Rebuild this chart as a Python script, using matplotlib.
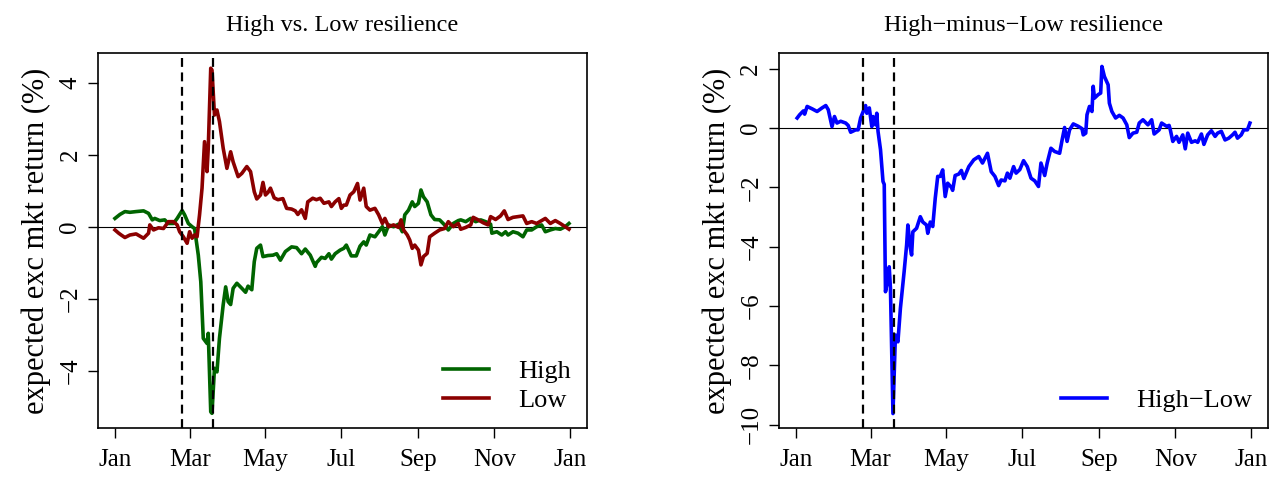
import numpy as np
import pandas as pd
import matplotlib
matplotlib.use("Agg")
import matplotlib.pyplot as plt
import matplotlib.dates as mdates

# dias desde 2020-01-01 y valores
high_day = [0, 4, 8, 12, 17, 23, 27, 30, 32, 36, 40, 43, 47, 50, 54, 56, 59, 62, 64, 67,
            69, 71, 74, 75, 77, 78, 80, 82, 84, 87, 89, 91, 93, 95, 98, 102, 105, 107, 110, 112,
            114, 117, 119, 123, 127, 130, 133, 137, 142, 146, 150, 153, 157, 161, 162, 166, 169, 172, 174, 177,
            181, 184, 186, 190, 194, 197, 200, 202, 205, 209, 212, 215, 217, 220, 224, 228, 231, 233, 236, 239,
            241, 244, 246, 248, 251, 254, 257, 261, 265, 268, 272, 276, 278, 282, 286, 290, 294, 298, 302, 303,
            307, 311, 314, 316, 320, 324, 328, 331, 335, 339, 343, 346, 350, 354, 358, 362, 365]
high_val = [0.23, 0.34, 0.42, 0.40, 0.42, 0.44, 0.37, 0.19, 0.23, 0.17, 0.19, 0.09, 0.09, 0.23, 0.45, 0.33, 0.09, 0.0, -0.05, -0.79,
            -1.53, -3.1, -3.24, -2.96, -5.14, -5.18, -3.93, -4.03, -3.1, -2.17, -1.67, -2.08, -2.16, -1.71, -1.57, -1.71, -1.82, -1.65, -1.75, -0.97,
            -0.6, -0.51, -0.83, -0.8, -0.79, -0.75, -0.93, -0.69, -0.56, -0.58, -0.75, -0.62, -0.79, -1.1, -1.0, -0.85, -0.88, -0.75, -0.9, -0.75,
            -0.65, -0.6, -0.51, -0.81, -0.81, -0.54, -0.42, -0.51, -0.23, -0.28, -0.14, 0.0, -0.23, 0.05, 0.0, 0.07, -0.14, 0.33, 0.46, 0.69,
            0.56, 0.65, 1.02, 0.83, 0.69, 0.33, 0.2, 0.19, 0.05, -0.09, 0.09, 0.17, 0.19, 0.14, 0.23, 0.14, 0.19, 0.14, 0.07, -0.18,
            -0.14, -0.23, -0.14, -0.23, -0.14, -0.18, -0.28, -0.09, -0.09, 0.0, 0.05, -0.14, -0.09, -0.05, -0.07, 0.0, 0.09]

low_day = [0, 3, 5, 8, 12, 17, 23, 27, 28, 31, 35, 39, 43, 47, 50, 52, 55, 58, 60, 62,
           64, 66, 68, 70, 72, 74, 75, 77, 78, 80, 82, 84, 87, 90, 93, 95, 99, 102, 106, 109,
           112, 114, 117, 119, 121, 123, 125, 128, 131, 135, 138, 142, 145, 147, 150, 153, 155, 159, 162, 165,
           168, 172, 174, 177, 180, 182, 184, 186, 189, 192, 195, 197, 200, 202, 205, 209, 212, 215, 217, 220,
           224, 228, 230, 232, 235, 237, 239, 241, 244, 246, 248, 251, 253, 257, 261, 265, 268, 272, 276, 278,
           282, 286, 288, 292, 296, 300, 302, 306, 310, 313, 316, 320, 324, 328, 331, 335, 339, 343, 346, 350,
           354, 358, 362, 365]
low_val = [-0.09, -0.18, -0.23, -0.30, -0.23, -0.20, -0.32, -0.18, 0.05, -0.09, -0.03, -0.05, 0.14, 0.14, 0.05, -0.14, -0.28, -0.46, -0.14, -0.32,
           -0.23, -0.28, 0.33, 1.07, 2.36, 1.53, 2.18, 4.4, 4.35, 3.1, 3.24, 2.92, 2.18, 1.62, 2.08, 1.8, 1.39, 1.48, 1.67, 1.53,
           0.97, 0.77, 0.88, 1.23, 0.88, 0.95, 1.07, 0.8, 0.75, 0.78, 0.51, 0.49, 0.44, 0.34, 0.47, 0.23, 0.69, 0.79, 0.75, 0.79,
           0.65, 0.69, 0.56, 0.69, 0.78, 0.51, 0.6, 0.6, 0.88, 0.97, 1.2, 0.74, 1.07, 0.56, 0.46, 0.51, 0.33, 0.09, 0.23, 0.0,
           0.05, -0.02, 0.19, -0.09, -0.23, -0.37, -0.6, -0.51, -0.65, -1.06, -0.83, -0.74, -0.28, -0.18, -0.09, -0.05, 0.14, 0.0, 0.09, -0.07,
           -0.02, 0.05, 0.26, 0.19, 0.11, 0.05, 0.28, 0.2, 0.3, 0.44, 0.2, 0.26, 0.28, 0.3, 0.09, 0.14, 0.09, 0.17, 0.23, 0.09,
           0.17, 0.09, 0.0, -0.07]

hl_day = [1, 3, 6, 7, 9, 13, 17, 21, 24, 26, 29, 31, 33, 36, 40, 42, 44, 48, 50, 52,
          56, 57, 59, 61, 62, 64, 65, 66, 68, 70, 71, 72, 74, 75, 76, 78, 80, 82, 84, 87,
          89, 90, 92, 93, 94, 97, 100, 102, 105, 106, 108, 110, 112, 114, 116, 118, 120, 122, 125, 126,
          128, 131, 133, 135, 139, 143, 147, 150, 154, 157, 160, 163, 165, 168, 170, 172, 175, 177, 180, 183,
          186, 189, 192, 195, 197, 200, 202, 205, 208, 212, 214, 216, 218, 220, 223, 227, 230, 231, 233, 234,
          236, 238, 239, 240, 243, 245, 246, 248, 251, 252, 254, 257, 260, 263, 266, 268, 271, 274, 276, 279,
          283, 286, 288, 292, 294, 298, 300, 301, 303, 306, 308, 311, 313, 315, 318, 321, 323, 326, 328, 331,
          334, 337, 339, 342, 345, 348, 351, 353, 355, 358, 360, 363, 365]
hl_val = [0.34, 0.45, 0.58, 0.47, 0.73, 0.65, 0.56, 0.68, 0.76, 0.62, 0.05, 0.39, 0.17, 0.23, 0.17, 0.09, -0.14, -0.06, -0.06, 0.34,
          0.76, 0.5, 0.68, 0.05, 0.39, 0.11, 0.5, -0.11, -0.73, -1.8, -1.9, -5.52, -5.07, -4.68, -5.41, -9.63, -6.98, -7.21, -6.08, -4.84,
          -3.94, -3.27, -4.05, -4.28, -3.5, -3.38, -2.99, -3.17, -3.27, -3.55, -3.17, -3.32, -2.37, -1.63, -1.63, -1.41, -2.31, -1.86, -2.0, -2.1,
          -1.6, -1.55, -1.43, -1.7, -1.3, -1.07, -0.96, -1.18, -0.85, -1.47, -1.63, -1.94, -1.75, -1.78, -1.52, -1.69, -1.3, -1.52, -1.4, -1.1,
          -1.3, -1.69, -1.78, -1.97, -1.18, -1.6, -1.18, -0.68, -0.79, -0.85, -0.4, 0.02, -0.45, -0.06, 0.14, 0.06, -0.02, -0.23, -0.17, 0.45,
          0.73, 0.56, 1.41, 1.01, 1.13, 1.18, 2.08, 1.74, 1.46, 0.84, 0.56, 0.34, 0.43, 0.34, 0.11, -0.32, -0.17, -0.14, 0.17, 0.28,
          0.11, 0.28, -0.2, -0.06, 0.17, 0.06, 0.09, -0.06, -0.45, -0.28, -0.48, -0.23, -0.7, -0.17, -0.48, -0.43, -0.48, -0.2, -0.55, -0.23,
          -0.09, -0.28, -0.17, -0.11, -0.4, -0.34, -0.23, -0.14, -0.34, -0.23, -0.06, -0.06, 0.17]

eventos = ["2020-02-24", "2020-03-20"]
meses = ["2020-01-01", "2020-03-01", "2020-05-01", "2020-07-01", "2020-09-01", "2020-11-01", "2021-01-01"]
meses_lab = ["Jan", "Mar", "May", "Jul", "Sep", "Nov", "Jan"]

inicio = pd.Timestamp("2020-01-01")
def a_fecha(dias):
    return inicio + pd.to_timedelta(dias, unit="D")

plt.rcParams['font.family'] = ['Liberation Serif', 'DejaVu Serif']

fig = plt.figure(figsize=(12.8, 4.87), dpi=100)
ax1 = fig.add_axes([0.0766, 0.121, 0.382, 0.770])
ax2 = fig.add_axes([0.6086, 0.121, 0.382, 0.770])

def formato(ax, titulo, yticks):
    ax.axhline(0, color="black", lw=0.8, zorder=1)
    for e in eventos:
        ax.axvline(pd.Timestamp(e), color="black", ls=(0, (4, 2.5)), lw=1.6, zorder=3)
    ax.set_xlim(inicio - pd.Timedelta(days=13.6), pd.Timestamp("2021-01-01") + pd.Timedelta(days=13.5))
    ax.set_xticks([pd.Timestamp(m) for m in meses])
    ax.set_xticklabels(meses_lab, fontsize=18)
    ax.set_yticks(yticks)
    ax.set_yticklabels([str(t).replace("-", "\u2212") for t in yticks], fontsize=18,
                       rotation=90, va="center")
    ax.tick_params(direction="out", length=7, width=1, pad=5)
    ax.tick_params(axis="x", pad=8)
    for s in ax.spines.values():
        s.set_linewidth(1.2)
    ax.set_title(titulo, fontsize=17.5, pad=16)
    ax.set_ylabel("expected exc mkt return (%)", fontsize=22, labelpad=6)

ax1.plot(a_fecha(high_day), high_val, color="#006400", lw=2.6, label="High", zorder=2)
ax1.plot(a_fecha(low_day), low_val, color="#8B0000", lw=2.6, label="Low", zorder=2)
ax1.set_ylim(-5.59, 4.82)
formato(ax1, "High vs. Low resilience", [-4, -2, 0, 2, 4])
ax1.legend(loc="lower right", frameon=False, fontsize=19, handlelength=1.75,
           handletextpad=1.1, labelspacing=0.2, borderaxespad=0.3, borderpad=0.3)

ax2.plot(a_fecha(hl_day), hl_val, color="blue", lw=2.6, label="High\u2212Low", zorder=2)
ax2.set_ylim(-10.12, 2.53)
formato(ax2, "High\u2212minus\u2212Low resilience", [-10, -8, -6, -4, -2, 0, 2])
ax2.legend(loc="lower right", frameon=False, fontsize=19, handlelength=1.75,
           handletextpad=1.1, borderaxespad=0.3, borderpad=0.3)

fig.savefig("out.png", dpi=100)
